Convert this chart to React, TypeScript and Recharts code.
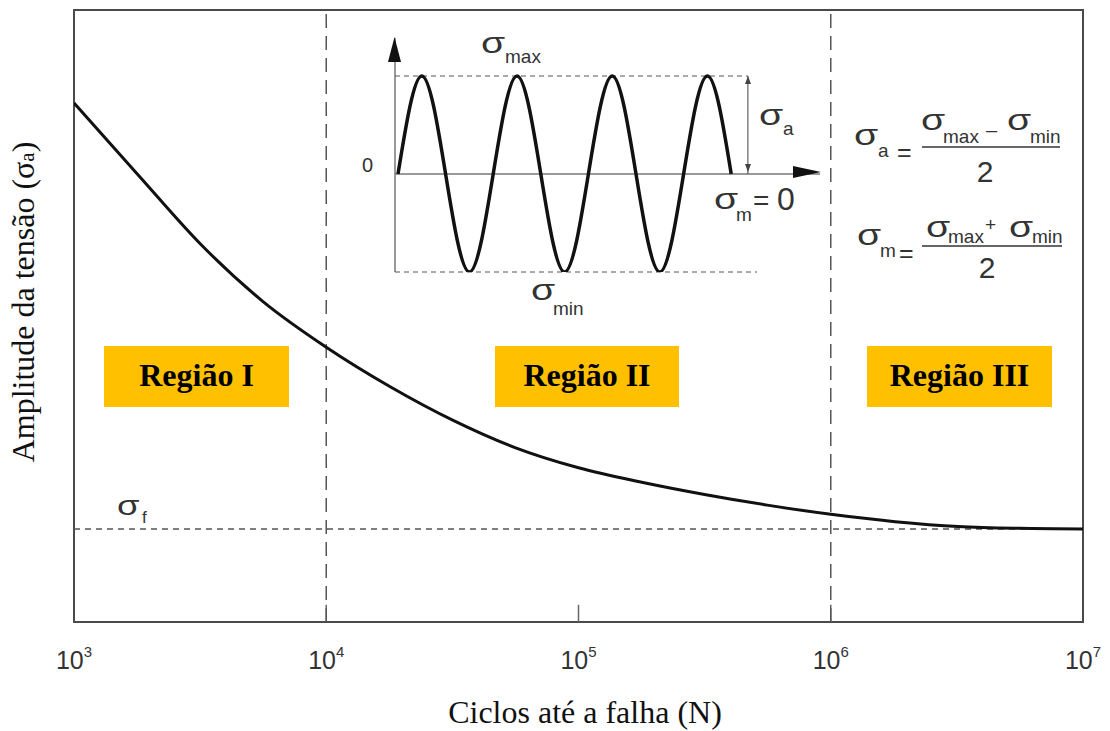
import { LineChart, Line, XAxis, YAxis, ReferenceLine, ReferenceArea } from "recharts";

// S-N curve: stress amplitude against cycles to failure (log scale)
const cycles = [1e3, 1.8e3, 3.2e3, 5.6e3, 1e4, 1.8e4, 3.2e4, 5.6e4, 1e5, 1.8e5, 3.2e5, 5.6e5, 1e6, 1.8e6, 3.2e6, 5.6e6, 1e7];
const amplitude = [84.8, 73.0, 61.6, 52.4, 44.9, 38.4, 32.9, 28.5, 25.2, 22.8, 20.8, 19.1, 17.6, 16.4, 15.6, 15.3, 15.2];
const decadeTicks = [1e3, 1e4, 1e5, 1e6, 1e7];
const regionBounds = [1e4, 1e6];
const fatigueLimit = 15.2;
const regionLabels = ["Região I", "Região II", "Região III"];

// fully reversed loading cycle, sampled every quarter period
const wavePhase = [0, 1, 2, 3, 4, 5, 6, 7, 8, 9, 10, 11, 12, 13, 14];
const waveStress = [0, 1, 0, -1, 0, 1, 0, -1, 0, 1, 0, -1, 0, 1, 0];

const curveData = cycles.map((n, i) => ({ n, amp: amplitude[i] }));
const waveData = wavePhase.map((t, i) => ({ t, s: waveStress[i] }));

const SERIF = "'Liberation Serif', 'Times New Roman', serif";
const SANS = "'Liberation Sans', Arial, Helvetica, sans-serif";
const INK = "#333";

function DecadeTick({ x, y, payload }: any) {
  const exp = Math.round(Math.log10(payload.value));
  return (
    <text x={x} y={y + 39} textAnchor="middle" fontFamily={SANS} fontSize={25} fill={INK}>
      10
      <tspan fontSize={15} dy={-12}>{exp}</tspan>
    </text>
  );
}

// wide sigma glyph plus its subscript
function Sigma({ x, y, sub, sx, sy, size = 29, subSize = 19 }: any) {
  return (
    <g fontFamily={SANS} fill={INK}>
      <text transform={`translate(${x},${y}) scale(1.35,1)`} fontSize={size}>σ</text>
      <text x={sx} y={sy} fontSize={subSize}>{sub}</text>
    </g>
  );
}

const boxes = [
  { x: 104, w: 185 },
  { x: 495, w: 184 },
  { x: 867, w: 185 },
];

export default function App() {
  return (
    <div style={{ position: "absolute", left: 0, top: 0, width: 1110, height: 731, background: "#fff" }}>
      <div style={{ position: "absolute", left: 0, top: 0 }}>
        <LineChart width={1110} height={731} data={curveData} margin={{ top: 10, right: 27, bottom: 69, left: 74 }}>
          <XAxis
            dataKey="n"
            type="number"
            scale="log"
            domain={[1e3, 1e7]}
            ticks={decadeTicks}
            interval={0}
            allowDataOverflow
            tickLine={false}
            axisLine={false}
            height={40}
            tick={<DecadeTick />}
          />
          <YAxis type="number" domain={[0, 100]} hide />
          <ReferenceArea x1={1e3} x2={1e7} y1={0} y2={100} fill="#fff" fillOpacity={0} stroke="#4a4a4a" strokeWidth={2} />
          {decadeTicks.slice(1, 4).map((t) => (
            <ReferenceLine key={`tick-${t}`} segment={[{ x: t, y: 0 }, { x: t, y: 2.8 }]} stroke="#666" strokeWidth={1.5} />
          ))}
          {regionBounds.map((b) => (
            <ReferenceLine key={`bound-${b}`} x={b} stroke="#555" strokeWidth={1.5} strokeDasharray="14 8" />
          ))}
          <ReferenceLine y={fatigueLimit} stroke="#555" strokeWidth={1.3} strokeDasharray="6 5" />
          <Line dataKey="amp" type="monotone" stroke="#111" strokeWidth={3} dot={false} isAnimationActive={false} />
        </LineChart>
      </div>

      {/* inset: sinusoidal stress history */}
      <div style={{ position: "absolute", left: 0, top: 0 }}>
        <LineChart width={1110} height={731} data={waveData} margin={{ top: 38, right: 290, bottom: 459, left: 395 }}>
          <XAxis dataKey="t" type="number" domain={[-0.126, 17.73]} allowDataOverflow hide />
          <YAxis type="number" domain={[-1, 1.388]} allowDataOverflow hide />
          <ReferenceLine x={-0.126} stroke="#777" strokeWidth={1.5} />
          <ReferenceLine y={0} stroke="#777" strokeWidth={1.5} />
          <ReferenceLine segment={[{ x: -0.126, y: 1 }, { x: 14.7, y: 1 }]} stroke="#555" strokeDasharray="5 4" />
          <ReferenceLine segment={[{ x: -0.126, y: -1 }, { x: 15.08, y: -1 }]} stroke="#555" strokeDasharray="5 4" />
          <ReferenceLine segment={[{ x: 14.7, y: 0 }, { x: 14.7, y: 1 }]} stroke="#444" strokeWidth={1} />
          <Line dataKey="s" type="natural" stroke="#111" strokeWidth={3.5} dot={false} isAnimationActive={false} />
        </LineChart>
      </div>

      <svg width={1110} height={731} style={{ position: "absolute", left: 0, top: 0, pointerEvents: "none" }}>
        {/* axis titles */}
        <text x={585} y={723} textAnchor="middle" fontFamily={SERIF} fontSize={32} fill="#111">
          Ciclos até a falha (N)
        </text>
        <text transform="translate(34,302) rotate(-90)" textAnchor="middle" fontFamily={SERIF} fontSize={32} fill="#111">
          Amplitude da tensão (σ<tspan fontSize={21}>a</tspan>)
        </text>

        {/* region labels */}
        {boxes.map((b, i) => (
          <g key={regionLabels[i]}>
            <rect x={b.x} y={346} width={b.w} height={61} fill="#FFC000" />
            <text x={b.x + b.w / 2} y={386} textAnchor="middle" fontFamily={SERIF} fontWeight="bold" fontSize={32} fill="#000">
              {regionLabels[i]}
            </text>
          </g>
        ))}

        <Sigma x={117} y={515} sub="f" sx={142} sy={523} size={27} subSize={17} />

        {/* inset arrows and labels */}
        <polygon points="388,62 394.5,37 401,62" fill="#111" />
        <polygon points="793,166 821,172 793,178" fill="#111" />
        <polygon points="745,84 748,76 751,84" fill="#444" />
        <polygon points="745,164 748,172 751,164" fill="#444" />
        <text x={362} y={172} fontFamily={SANS} fontSize={20} fill={INK}>0</text>
        <Sigma x={481} y={53} sub="max" sx={505} sy={63} />
        <Sigma x={759} y={125} sub="a" sx={783} sy={135} />
        <Sigma x={714} y={209} sub="m" sx={736} sy={221} />
        <text x={753} y={210} fontFamily={SANS} fontSize={28} fill={INK}>=</text>
        <text x={777} y={210} fontFamily={SANS} fontSize={32} fill={INK}>0</text>
        <Sigma x={531} y={300} sub="min" sx={553} sy={315} />

        {/* amplitude and mean stress formulas */}
        <Sigma x={854} y={145} sub="a" sx={878} sy={157} />
        <text x={897} y={161} fontFamily={SANS} fontSize={25} fill={INK}>=</text>
        <Sigma x={921} y={130} sub="max" sx={943} sy={143} />
        <text x={986} y={137} fontFamily={SANS} fontSize={20} fill={INK}>–</text>
        <Sigma x={1007} y={130} sub="min" sx={1030} sy={143} />
        <line x1={922} x2={1060} y1={147} y2={147} stroke={INK} strokeWidth={1.6} />
        <text x={985} y={182} textAnchor="middle" fontFamily={SANS} fontSize={30} fill={INK}>2</text>

        <Sigma x={857} y={245} sub="m" sx={880} sy={257} />
        <text x={899} y={262} fontFamily={SANS} fontSize={25} fill={INK}>=</text>
        <Sigma x={926} y={237} sub="max" sx={948} sy={243} />
        <text x={985} y={231} fontFamily={SANS} fontSize={19} fill={INK}>+</text>
        <Sigma x={1009} y={237} sub="min" sx={1032} sy={243} />
        <line x1={922} x2={1062} y1={246} y2={246} stroke={INK} strokeWidth={1.6} />
        <text x={987} y={278} textAnchor="middle" fontFamily={SANS} fontSize={30} fill={INK}>2</text>
      </svg>
    </div>
  );
}
